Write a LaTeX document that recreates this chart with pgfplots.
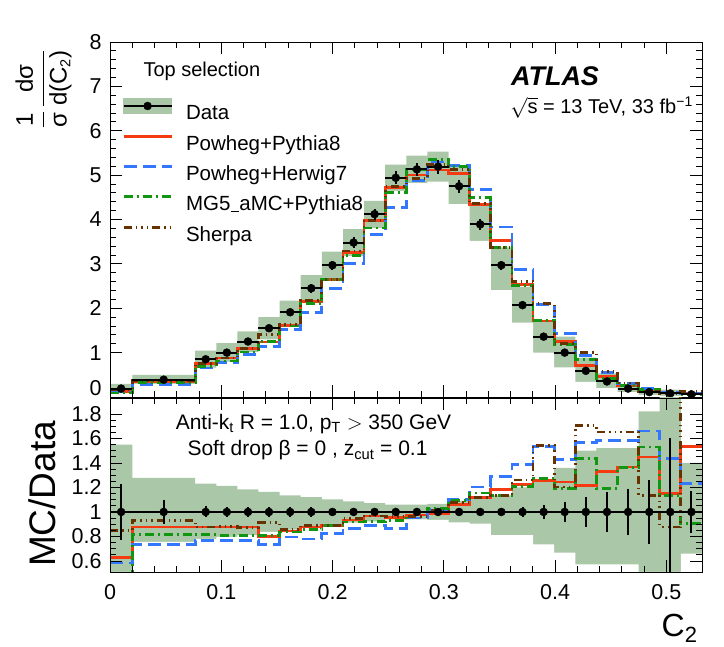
\documentclass[border=0pt]{standalone}
\usepackage{fontspec}
\setmainfont{Liberation Sans}
\usepackage{pgfplots}
\usepackage{pgfplotstable}
\pgfplotsset{compat=1.18}

\definecolor{bandgreen}{RGB}{170,199,168}
\definecolor{ppred}{RGB}{245,58,18}
\definecolor{phblue}{RGB}{51,119,255}
\definecolor{mggreen}{RGB}{17,150,17}
\definecolor{shbrown}{RGB}{102,51,0}

\newcommand{\ticksize}{\fontsize{21.5bp}{25bp}\selectfont}
\newcommand{\legsize}{\fontsize{20.5bp}{24bp}\selectfont}
\newcommand{\txtsize}{\fontsize{21bp}{25bp}\selectfont}
\newcommand{\sub}[1]{$_{\mbox{\fontsize{14.5bp}{14.5bp}\selectfont #1}}$}

% C2 bins: left edge, half width, normalised data, band (ratio up/down),
% data stat. error (relative), MC/Data for PP8, PH7, MG5, Sherpa.
% The last row closes the final bin for the step histograms.
\pgfplotstableread{
lo     hw      d    bu    bd    ey    r1    r2    r3    r4
0.0000 0.01000 0.19 1.550 0.450 0.230 0.627 0.584 0.480 0.850
0.0200 0.02825 0.39 1.278 0.755 0.100 0.878 0.736 0.818 0.932
0.0765 0.00949 0.85 1.231 0.780 0.045 0.878 0.770 0.815 0.878
0.0955 0.00949 1.00 1.212 0.796 0.040 0.878 0.770 0.810 0.880
0.1145 0.00949 1.25 1.185 0.810 0.040 0.878 0.770 0.810 0.870
0.1334 0.00949 1.55 1.163 0.837 0.040 0.800 0.736 0.810 0.913
0.1524 0.00949 1.91 1.136 0.856 0.040 0.845 0.796 0.837 0.860
0.1714 0.00949 2.45 1.122 0.870 0.040 0.878 0.780 0.858 0.890
0.1904 0.00949 2.97 1.103 0.890 0.035 0.890 0.823 0.890 0.890
0.2094 0.00949 3.48 1.087 0.913 0.035 0.935 0.864 0.918 0.946
0.2283 0.00949 4.12 1.073 0.924 0.030 0.967 0.890 0.924 0.967
0.2473 0.00949 4.94 1.060 0.940 0.030 0.955 0.864 0.932 0.960
0.2663 0.00949 5.13 1.060 0.940 0.030 0.975 0.950 1.000 0.960
0.2853 0.00949 5.19 1.065 0.935 0.030 0.986 1.020 1.030 1.010
0.3042 0.00949 4.75 1.090 0.915 0.030 1.060 1.100 1.095 1.080
0.3232 0.00949 3.89 1.110 0.905 0.030 1.117 1.204 1.155 1.120
0.3422 0.00949 2.97 1.136 0.810 0.035 1.185 1.290 1.136 1.136
0.3612 0.00949 2.07 1.200 0.810 0.040 1.223 1.390 1.210 1.260
0.3802 0.00949 1.36 1.264 0.736 0.054 1.259 1.536 1.270 1.544
0.3991 0.00949 1.00 1.360 0.668 0.080 1.245 1.430 1.190 1.204
0.4181 0.00949 0.59 1.500 0.573 0.120 1.218 1.570 1.435 1.707
0.4371 0.00949 0.35 1.520 0.573 0.160 1.332 1.580 1.190 1.653
0.4561 0.00949 0.19 1.520 0.573 0.190 1.367 1.585 1.360 1.653
0.4751 0.00949 0.11 1.820 0.450 0.260 1.449 1.660 1.530 1.136
0.4940 0.00949 0.08 2.100 0.300 0.600 1.150 1.435 1.136 0.878
0.5130 0.00949 0.06 1.400 0.660 0.170 1.531 1.230 0.905 2.200
0.5320 0.00000 0.06 1.400 0.660 0.170 1.531 1.230 0.905 2.200
}\bins

\pgfplotsset{
  atlas/.style={
    scale only axis, width=592bp,
    xmin=0, xmax=0.532,
    axis on top,
    tick align=inside, xtick pos=both, ytick pos=both,
    major tick length=12bp, minor tick length=6bp,
    axis line style={line width=0.8bp},
    tick style={black, line width=0.8bp},
    xtick={0,0.1,0.2,0.3,0.4,0.5}, minor x tick num=4,
    tick label style={font=\ticksize},
    xticklabel style={yshift=-9bp},
    yticklabel style={xshift=-5bp},
    /pgf/number format/assume math mode=true,
  },
  % uncertainty band: green bins up to the upper edge, then white below the lower edge
  bandhi/.style={ybar interval, fill=bandgreen, draw=none, forget plot},
  bandlo/.style={ybar interval, fill=white, draw=none, forget plot},
  hist/.style={const plot, forget plot, line width=2.8bp},
  pp8/.style={hist, ppred},
  ph7/.style={hist, phblue, dash pattern=on 13bp off 6bp},
  mg5/.style={hist, mggreen, dash pattern=on 9bp off 4bp on 2bp off 4bp},
  sherpa/.style={hist, shbrown, dash pattern=on 8bp off 4bp on 1.5bp off 4bp on 1.5bp off 4bp on 1.5bp off 4bp},
  datapts/.style={only marks, mark=*, mark size=4bp, black, forget plot,
    skip coords between index={26}{27},
    error bars/.cd, x dir=both, x explicit, y dir=both, y explicit,
    error mark=none, error bar style={line width=2bp, solid}},
  leg data/.style={legend image code/.code={
    \fill[bandgreen] (0bp,0.5bp) rectangle (48bp,15.5bp);
    \draw[black, line width=2bp] (0bp,8bp) -- (48bp,8bp);
    \fill[black] (24bp,8bp) circle[radius=4bp];}},
  leg pp8/.style={legend image code/.code={\draw[ppred, line width=2.8bp] (0bp,8bp) -- (48bp,8bp);}},
  leg ph7/.style={legend image code/.code={\draw[phblue, line width=2.8bp, dash pattern=on 13bp off 6bp] (0bp,8bp) -- (48bp,8bp);}},
  leg mg5/.style={legend image code/.code={\draw[mggreen, line width=2.8bp, dash pattern=on 9bp off 4bp on 2bp off 4bp] (0bp,8bp) -- (48bp,8bp);}},
  leg sherpa/.style={legend image code/.code={\draw[shbrown, line width=2.8bp, dash pattern=on 8bp off 4bp on 1.5bp off 4bp on 1.5bp off 4bp on 1.5bp off 4bp] (0bp,8bp) -- (48bp,8bp);}},
}

\begin{document}
\begin{tikzpicture}
\path[use as bounding box] (0,0) rectangle (724bp,647bp);

% ---- distribution ----
\begin{axis}[atlas,
  at={(110bp,250bp)}, anchor=south west, height=355bp,
  ymin=0, ymax=8, ytick={1,2,3,4,5,6,7,8}, minor y tick num=4,
  extra y ticks={0}, extra y tick style={yticklabel style={yshift=9bp}},
  xticklabels={},
  legend style={at={(0.0203,0.842)}, anchor=north west, draw=none, fill=none,
    font=\legsize, inner sep=0pt, row sep=8.3bp, column sep=13bp,
    nodes={inner xsep=0pt, inner ysep=0pt, text height=17bp, text depth=5bp}},
  legend cell align=left,
]
\addlegendimage{leg data}
\addlegendentry{Data}
\addlegendimage{leg pp8}
\addlegendentry{Powheg+Pythia8}
\addlegendimage{leg ph7}
\addlegendentry{Powheg+Herwig7}
\addlegendimage{leg mg5}
\addlegendentry{MG5\kern0.5bp\rule[-1.5bp]{8bp}{1.3bp}\kern0.5bp aMC+Pythia8}
\addlegendimage{leg sherpa}
\addlegendentry{Sherpa}

\addplot[bandhi] table[x=lo, y expr=\thisrow{d}*\thisrow{bu}] {\bins};
\addplot[bandlo] table[x=lo, y expr=\thisrow{d}*\thisrow{bd}] {\bins};

\addplot[pp8] table[x=lo, y expr=\thisrow{d}*\thisrow{r1}] {\bins};
\addplot[ph7] table[x=lo, y expr=\thisrow{d}*\thisrow{r2}] {\bins};
\addplot[mg5] table[x=lo, y expr=\thisrow{d}*\thisrow{r3}] {\bins};
\addplot[sherpa] table[x=lo, y expr=\thisrow{d}*\thisrow{r4}] {\bins};

\addplot[datapts] table[x expr=\thisrow{lo}+\thisrow{hw}, y=d,
  x error=hw, y error expr=\thisrow{d}*\thisrow{ey}] {\bins};
\end{axis}

% ---- ratio ----
\begin{axis}[atlas,
  at={(110bp,75bp)}, anchor=south west, height=174bp,
  ymin=0.51, ymax=1.93, ytick={0.6,0.8,1,1.2,1.4,1.6,1.8}, minor y tick num=3,
  xticklabels={0,0.1,0.2,0.3,0.4,0.5},
  yticklabels={0.6,0.8,1,1.2,1.4,1.6,1.8},
]
\addplot[bandhi] table[x=lo, y=bu] {\bins};
\addplot[bandlo] table[x=lo, y=bd] {\bins};

\addplot[pp8] table[x=lo, y=r1] {\bins};
\addplot[ph7] table[x=lo, y=r2] {\bins};
\addplot[mg5] table[x=lo, y=r3] {\bins};
\addplot[sherpa] table[x=lo, y=r4] {\bins};

\addplot[datapts] table[x expr=\thisrow{lo}+\thisrow{hw}, y expr=1,
  x error=hw, y error=ey] {\bins};
\end{axis}

% ---- labels ----
\node[anchor=west, font=\fontsize{20bp}{24bp}\selectfont] at (140bp,576bp) {Top selection};
\node[anchor=base, inner sep=0pt, font=\fontsize{27bp}{30bp}\selectfont\bfseries\itshape] at (555bp,561bp) {ATLAS};
\node[anchor=base east, inner sep=0pt, font=\fontsize{20bp}{24bp}\selectfont] at (693bp,533bp) {$\sqrt{\mbox{s}}$ = 13 TeV, 33 fb\textsuperscript{−1}};
\node[anchor=base, font=\txtsize] at (313.5bp,217.5bp) {Anti-k\sub{t} R = 1.0, p$_{\mathrm{T}}$ $>$ 350 GeV};
\node[anchor=base, font=\txtsize] at (307.5bp,191bp) {Soft drop β = 0 , z$_{\mathrm{cut}}$ = 0.1};

\node[rotate=90, anchor=north east, font=\fontsize{24bp}{28bp}\selectfont] at (12bp,601bp)
  {$\displaystyle\frac{\mbox{1}}{\mbox{σ}}\,\frac{\mbox{dσ}}{\mbox{d(C\sub{2})}}$};
\node[rotate=90, font=\fontsize{37bp}{40bp}\selectfont] at (42bp,153bp) {MC/Data};
\node[anchor=base east, font=\fontsize{32bp}{36bp}\selectfont] at (701bp,11bp)
  {C$_{\mbox{\fontsize{22bp}{22bp}\selectfont 2}}$};
\end{tikzpicture}
\end{document}
